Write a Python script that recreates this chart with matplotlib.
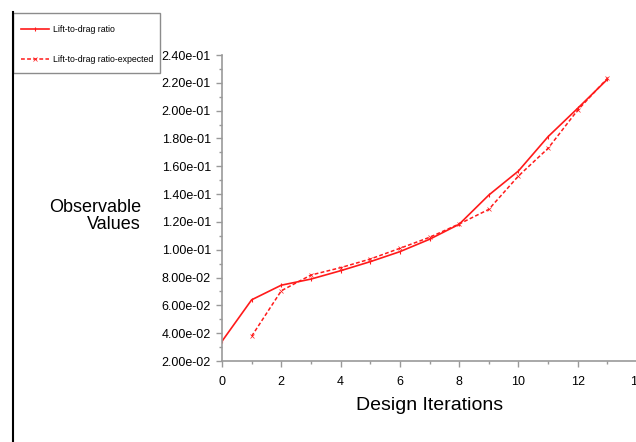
import matplotlib
matplotlib.use("Agg")
import matplotlib.pyplot as plt
from matplotlib.ticker import MultipleLocator, FormatStrFormatter
from matplotlib.lines import Line2D
from matplotlib.patches import Rectangle

plt.rcParams['font.family'] = ['Liberation Sans', 'DejaVu Sans']

# data
iters = [0, 1, 2, 3, 4, 5, 6, 7, 8, 9, 10, 11, 12, 13]
ld_ratio = [0.0342, 0.0640, 0.0745, 0.0789, 0.0849, 0.0914, 0.0986, 0.1075,
            0.1183, 0.1393, 0.1566, 0.1813, 0.2017, 0.2225]
iters_exp = [1, 2, 3, 4, 5, 6, 7, 8, 9, 10, 11, 12, 13]
ld_expected = [0.0378, 0.0705, 0.0818, 0.0871, 0.0933, 0.1010, 0.1089,
               0.1185, 0.1290, 0.1530, 0.1729, 0.2004, 0.2232]

W, H = 636, 442
fig = plt.figure(figsize=(W / 100, H / 100), dpi=100)
ax = fig.add_axes([222 / W, 1 - 361 / H, (637 - 222) / W, (361 - 55) / H])

red = '#ff1a1a'
l1, = ax.plot(iters, ld_ratio, color=red, lw=1.2, marker='|', ms=3.5, mew=0.8,
              label='Lift-to-drag ratio')
l2, = ax.plot(iters_exp, ld_expected, color=red, lw=1.1, ls=(0, (2.5, 1.5)),
              marker='x', ms=2.2, mew=0.5, label='Lift-to-drag ratio-expected')

ax.set_xlim(0, 14)
ax.set_ylim(0.02, 0.24)
ax.xaxis.set_major_locator(MultipleLocator(2))
ax.xaxis.set_minor_locator(MultipleLocator(1))
ax.yaxis.set_major_locator(MultipleLocator(0.02))
ax.yaxis.set_minor_locator(MultipleLocator(0.01))
ax.yaxis.set_major_formatter(FormatStrFormatter('%.2e'))

for s in ['top', 'right']:
    ax.spines[s].set_visible(False)
for s in ['left', 'bottom']:
    ax.spines[s].set_color('#999999')
    ax.spines[s].set_linewidth(1.2)
ax.tick_params(which='major', length=4, width=1, color='#999999',
               labelsize=9, pad=4)
ax.tick_params(which='minor', length=2, width=1, color='#999999')
ax.tick_params(axis='x', pad=7)

ax.set_xlabel('Design Iterations', fontsize=14, labelpad=6)
ax.set_ylabel('Observable\nValues', fontsize=13, rotation=0, ha='right',
              va='center', multialignment='right', linespacing=1.0)
ax.yaxis.set_label_coords((141 - 222) / (637 - 222), (361 - 216) / 306)

# legend box in the top left corner
fig.patches.append(Rectangle((13 / W, 1 - 73 / H), (160 - 13) / W, 60 / H,
                             transform=fig.transFigure, fill=False,
                             edgecolor='#8c8c8c', lw=1.0))
fig.lines.append(Line2D([13 / W, 13 / W], [0, 1 - 12 / H],
                        transform=fig.transFigure, color='black', lw=1.5))
fig.legend(handles=[l1, l2], loc='upper left',
           bbox_to_anchor=(11 / W, 1 - 15 / H), frameon=False, fontsize=6.3,
           handlelength=3.2, handletextpad=0.5, labelspacing=2.45,
           borderpad=0.6)

fig.savefig('out.png', dpi=100)
